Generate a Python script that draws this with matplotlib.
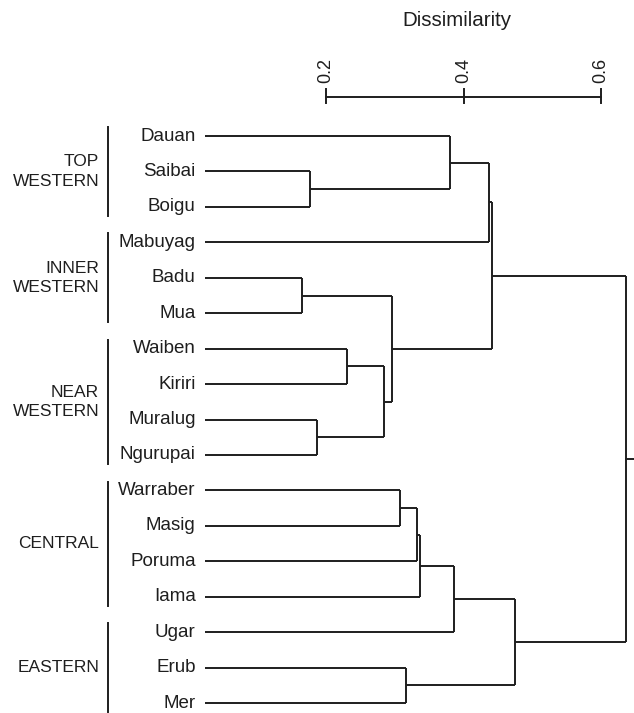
import matplotlib
matplotlib.use("Agg")
import matplotlib.pyplot as plt

plt.rcParams['font.family'] = ['Liberation Sans', 'DejaVu Sans']

# leaves, top to bottom
leaves = ["Dauan", "Saibai", "Boigu", "Mabuyag", "Badu", "Mua",
          "Waiben", "Kiriri", "Muralug", "Ngurupai",
          "Warraber", "Masig", "Poruma", "Iama", "Ugar", "Erub", "Mer"]

# linkage: indices < 17 are leaves, 17 + k is the cluster made by merge k
merge_a = [4, 1, 8, 6, 20, 17, 10, 15, 23, 25, 0, 26, 27, 29, 28, 30]
merge_b = [5, 2, 9, 7, 19, 21, 11, 16, 12, 13, 18, 14, 3, 22, 24, 31]
merge_h = [0.165, 0.177, 0.187, 0.230, 0.285, 0.296, 0.308, 0.316,
           0.332, 0.337, 0.381, 0.386, 0.437, 0.441, 0.475, 0.637]

groups = ["TOP\nWESTERN", "INNER\nWESTERN", "NEAR\nWESTERN", "CENTRAL", "EASTERN"]
group_first = [0, 3, 6, 10, 14]
group_last = [2, 5, 9, 13, 16]

scale_ticks = [0.2, 0.4, 0.6]

ink = "#1e1e1e"
leaf_x = 0.024

fig = plt.figure(figsize=(6.34, 7.13), dpi=100)
ax = fig.add_axes([0, 0, 1, 1])
ax.set_xlim(-0.2742, 0.648)
ax.set_ylim(16.28, -3.838)
ax.axis("off")

n = len(leaves)
xs = {i: leaf_x for i in range(n)}
ys = {i: float(i) for i in range(n)}

for k, (a, b, h) in enumerate(zip(merge_a, merge_b, merge_h)):
    for c in (a, b):
        ax.plot([xs[c], h], [ys[c], ys[c]], color=ink, lw=1.4, solid_capstyle="butt")
    ax.plot([h, h], [ys[a], ys[b]], color=ink, lw=1.4, solid_capstyle="butt")
    xs[n + k] = h
    ys[n + k] = (ys[a] + ys[b]) / 2

root = n + len(merge_h) - 1
ax.plot([xs[root], xs[root] + 0.012], [ys[root], ys[root]], color=ink, lw=1.4)

for i, name in enumerate(leaves):
    ax.text(0.0105, i, name, ha="right", va="center", fontsize=13.5, color=ink)

for g, first, last in zip(groups, group_first, group_last):
    ax.plot([-0.117, -0.117], [first - 0.25, last + 0.25], color=ink, lw=1.4)
    ax.text(-0.130, (first + last) / 2, g, ha="right", va="center",
            fontsize=12.5, color=ink, multialignment="right", linespacing=1.35)

# scale bar
bar_y = -1.10
ax.plot([scale_ticks[0], scale_ticks[-1]], [bar_y, bar_y], color=ink, lw=1.4)
for t in scale_ticks:
    ax.plot([t, t], [bar_y - 0.22, bar_y + 0.18], color=ink, lw=1.4)
    ax.text(t, bar_y - 0.40, f"{t:.1f}", rotation=90, ha="center", va="bottom",
            fontsize=13, color=ink)
ax.text(0.39, -3.27, "Dissimilarity", ha="center", va="center", fontsize=14.8, color=ink)

fig.savefig("out.png", dpi=100)
